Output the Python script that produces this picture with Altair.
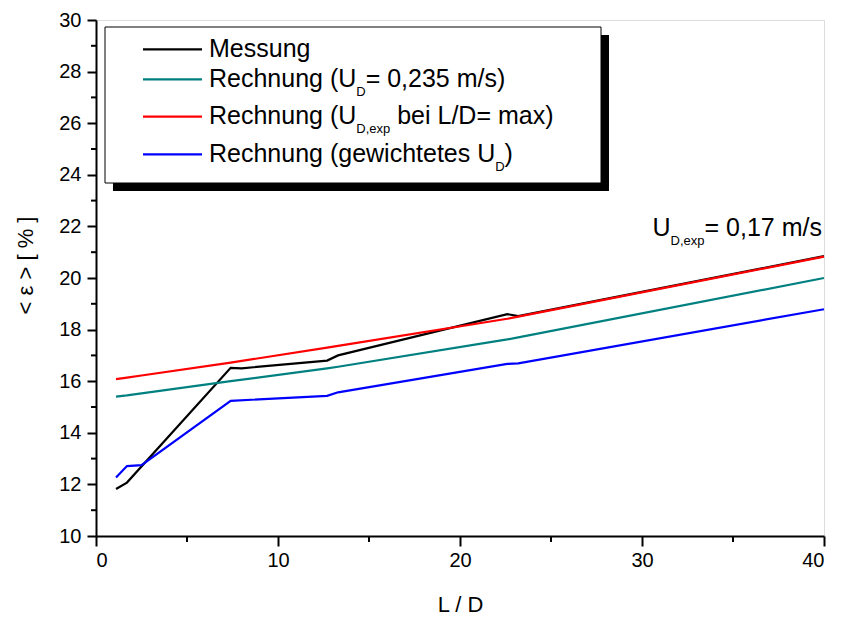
import altair as alt
import pandas as pd

FONT = "Liberation Sans"

# ---------------- data ----------------
ld_mess = [1.1, 1.7, 7.4, 8.0, 12.7, 13.3, 22.6, 23.2, 40.0]
eps_mess = [11.82, 12.07, 16.52, 16.5, 16.8, 17.0, 18.6, 18.52, 20.85]

ld_calc = [1.1, 1.7, 2.5, 7.4, 12.7, 13.3, 22.6, 23.2, 40.0]
eps_const = [15.4, 15.45, 15.53, 16.0, 16.5, 16.56, 17.62, 17.7, 20.0]
eps_exp = [16.08, 16.14, 16.22, 16.72, 17.3, 17.37, 18.42, 18.5, 20.83]
eps_weighted = [12.27, 12.71, 12.75, 15.24, 15.43, 15.57, 16.67, 16.69, 18.79]

series_names = ["Messung", "Rechnung konst", "Rechnung exp", "Rechnung gew"]
series_colors = ["#000000", "#008080", "#ff0000", "#0000ff"]

# legend labels as (text, subscript?) segments
legend_segments = [
    [("Messung", False)],
    [("Rechnung (U", False), ("D", True), ("= 0,235 m/s)", False)],
    [("Rechnung (U", False), ("D,exp", True), (" bei L/D= max)", False)],
    [("Rechnung (gewichtetes U", False), ("D", True), (")", False)],
]
annot_segments = [("U", False), ("D,exp", True), ("= 0,17 m/s", False)]

x_major = [0, 10, 20, 30, 40]
x_minor = [5, 15, 25, 35]
y_major = list(range(10, 31, 2))
y_minor = list(range(11, 30, 2))

# ---------------- helpers ----------------
W = {'M': 833, 'e': 556, 's': 500, 'u': 556, 'n': 556, 'g': 556, 'R': 722, 'c': 500,
     'h': 556, ' ': 278, '(': 333, ')': 333, 'U': 722, 'D': 722, '=': 584, ',': 278,
     '.': 278, 'm': 833, '/': 278, 'x': 500, 'p': 556, 'b': 556, 'i': 222, 'L': 556,
     'a': 556, 'w': 722, 't': 278}
for d in "0123456789":
    W[d] = 556

MAIN = 25
SUB = 13
SUB_SHIFT = 9


def tw(s, size):
    return sum(W.get(c, 556) for c in s) * size / 1000.0


def layout(segs, x0, base):
    out = []
    x = x0
    for txt, sub in segs:
        size = SUB if sub else MAIN
        lead = len(txt) - len(txt.lstrip(" "))
        x += lead * W[" "] * size / 1000.0
        body = txt.lstrip(" ")
        out.append({"text": body, "px": x, "py": base + (SUB_SHIFT if sub else 0), "sub": sub})
        x += tw(body, size)
    return out

# ---------------- line data ----------------
rows = []
for i, (x, y) in enumerate(zip(ld_mess, eps_mess)):
    rows.append({"series": series_names[0], "ld": x, "eps": y, "o": i})
for name, ys in zip(series_names[1:], [eps_const, eps_exp, eps_weighted]):
    for i, (x, y) in enumerate(zip(ld_calc, ys)):
        rows.append({"series": name, "ld": x, "eps": y, "o": i})
df = pd.DataFrame(rows)

xs = alt.Scale(domain=[0, 40], nice=False, zero=False)
ys_ = alt.Scale(domain=[10, 30], nice=False, zero=False)

x_axis = alt.Axis(values=x_major, format="d", tickSize=10, tickWidth=2,
                  domainWidth=2, domainColor="black", tickColor="black",
                  labelFont=FONT, labelFontSize=20, labelColor="black",
                  labelPadding=4, titleFont=FONT, titleFontSize=22,
                  titleFontWeight="normal", titleColor="black",
                  titlePadding=24, grid=False)
y_axis = alt.Axis(values=y_major, format="d", tickSize=9, tickWidth=2,
                  domainWidth=2, domainColor="black", tickColor="black",
                  labelFont=FONT, labelFontSize=20, labelColor="black",
                  labelPadding=6, titleFont=FONT, titleFontSize=22,
                  titleFontWeight="normal", titleColor="black",
                  titleX=-71, titleY=245, titleAlign="center",
                  titleBaseline="middle", grid=False)

lines = alt.Chart(df).mark_line(strokeWidth=2.2).encode(
    x=alt.X("ld:Q", scale=xs, title="L / D", axis=x_axis),
    y=alt.Y("eps:Q", scale=ys_, title="< ε > [ % ]", axis=y_axis),
    color=alt.Color("series:N", scale=alt.Scale(domain=series_names, range=series_colors),
                    legend=None),
    order="o:Q",
    detail="series:N",
)

xminor = alt.Chart(pd.DataFrame({"ld": x_minor})).mark_rule(color="black", strokeWidth=2).encode(
    x=alt.X("ld:Q", scale=xs, title="L / D", axis=x_axis), y=alt.value(516), y2=alt.value(522))
yminor = alt.Chart(pd.DataFrame({"eps": y_minor})).mark_rule(color="black", strokeWidth=2).encode(
    y=alt.Y("eps:Q", scale=ys_, title="< ε > [ % ]", axis=y_axis), x=alt.value(-5), x2=alt.value(0))

# ---------------- legend ----------------
shadow = alt.Chart(pd.DataFrame({"a": [0]})).mark_rect(color="black").encode(
    x=alt.value(17), x2=alt.value(513), y=alt.value(15), y2=alt.value(171))
box = alt.Chart(pd.DataFrame({"a": [0]})).mark_rect(fill="white", stroke="black", strokeWidth=1).encode(
    x=alt.value(9), x2=alt.value(505), y=alt.value(7), y2=alt.value(163))

row_y = [29.3, 59.3, 96.7, 134.3]
leg_lines = pd.DataFrame({"x1": [47] * 4, "x2": [106] * 4, "yy": row_y, "c": series_colors})
leg_rule = alt.Chart(leg_lines).mark_rule(strokeWidth=2.2).encode(
    x=alt.X("x1:Q", scale=None), x2="x2:Q", y=alt.Y("yy:Q", scale=None),
    color=alt.Color("c:N", scale=None))

seg_rows = []
for segs, yy in zip(legend_segments, row_y):
    seg_rows += layout(segs, 113, yy + 7.4)
ann_total = sum(tw(t, SUB if s else MAIN) for t, s in annot_segments)
seg_rows += layout(annot_segments, 726 - ann_total, 216)
seg = pd.DataFrame(seg_rows)

main_txt = alt.Chart(seg[~seg["sub"]]).mark_text(
    align="left", baseline="alphabetic", font=FONT, fontSize=MAIN, color="black").encode(
    x=alt.X("px:Q", scale=None), y=alt.Y("py:Q", scale=None), text="text:N")
sub_txt = alt.Chart(seg[seg["sub"]]).mark_text(
    align="left", baseline="alphabetic", font=FONT, fontSize=SUB, color="black").encode(
    x=alt.X("px:Q", scale=None), y=alt.Y("py:Q", scale=None), text="text:N")

chart = alt.layer(lines, xminor, yminor, shadow, box, leg_rule, main_txt, sub_txt).properties(
    width=728, height=516,
    padding={"left": 88, "top": 12, "right": 9, "bottom": 80},
    autosize=alt.AutoSizeParams(type="none"),
).configure_view(strokeWidth=0).configure(background="white")

chart.save("out.html", embed_options={"renderer": "svg", "actions": False})
